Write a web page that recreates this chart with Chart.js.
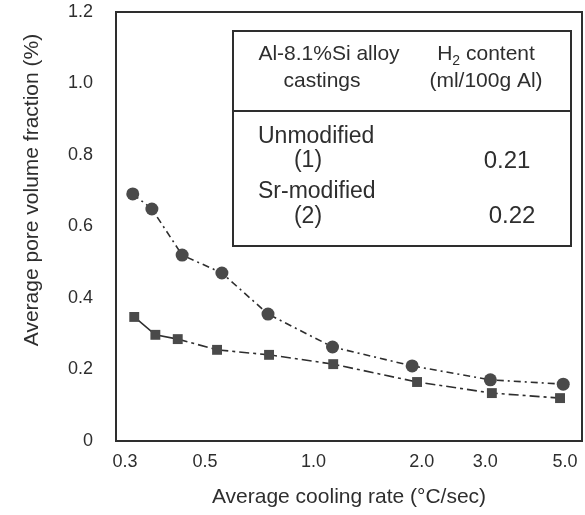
<!DOCTYPE html>
<html lang="en">
<head>
<meta charset="UTF-8">
<title>Pore volume fraction vs cooling rate</title>
<script src="https://cdn.jsdelivr.net/npm/chart.js@4/dist/chart.umd.min.js"></script>
<style>
  body { margin: 0; background: #fff; }
  #wrap { width: 585px; height: 515px; }
</style>
</head>
<body>
<div id="wrap"><canvas id="pores" width="585" height="515"></canvas></div>
<script>
// ---------- data ----------
const unmodX = [0.315, 0.356, 0.432, 0.557, 0.748, 1.13, 1.88, 3.10, 4.94];
const unmodY = [0.691, 0.649, 0.520, 0.470, 0.355, 0.263, 0.210, 0.171, 0.159];
const srX = [0.318, 0.364, 0.420, 0.540, 0.753, 1.135, 1.94, 3.13, 4.84];
const srY = [0.347, 0.297, 0.285, 0.255, 0.241, 0.215, 0.165, 0.134, 0.120];
const xTicks = [0.3, 0.5, 1.0, 2.0, 3.0, 5.0];
const yTicks = [0, 0.2, 0.4, 0.6, 0.8, 1.0, 1.2];

const ink = '#2e2e2e';
const markColor = '#4a4a4a';

const toPoints = (xs, ys) => xs.map((x, i) => ({ x: x, y: ys[i] }));

// frame, inset table and y title
const extras = {
  id: 'extras',
  afterDraw(chart) {
    const { ctx, chartArea: a } = chart;
    ctx.save();
    ctx.strokeStyle = ink;
    ctx.lineWidth = 2;
    ctx.strokeRect(a.left, a.top, a.right - a.left, a.bottom - a.top);

    // table box
    ctx.lineWidth = 2;
    ctx.strokeRect(233, 31, 338, 215);
    ctx.beginPath();
    ctx.moveTo(233, 111);
    ctx.lineTo(571, 111);
    ctx.stroke();

    ctx.fillStyle = ink;
    ctx.textBaseline = 'alphabetic';
    ctx.font = '21px "Liberation Sans", Arial, sans-serif';
    ctx.textAlign = 'center';
    ctx.fillText('Al-8.1%Si alloy', 329, 60);
    ctx.fillText('castings', 322, 87);
    ctx.fillText('(ml/100g Al)', 486, 87);

    // H2 content with subscript
    ctx.textAlign = 'left';
    const hW = ctx.measureText('H').width;
    const restW = ctx.measureText(' content').width;
    ctx.font = '14px "Liberation Sans", Arial, sans-serif';
    const subW = ctx.measureText('2').width;
    let hx = 486 - (hW + subW + restW) / 2;
    ctx.font = '21px "Liberation Sans", Arial, sans-serif';
    ctx.fillText('H', hx, 60);
    ctx.font = '14px "Liberation Sans", Arial, sans-serif';
    ctx.fillText('2', hx + hW, 65);
    ctx.font = '21px "Liberation Sans", Arial, sans-serif';
    ctx.fillText(' content', hx + hW + subW, 60);

    ctx.font = '23px "Liberation Sans", Arial, sans-serif';
    ctx.textAlign = 'left';
    ctx.fillText('Unmodified', 258, 143);
    ctx.fillText('Sr-modified', 258, 198);
    ctx.textAlign = 'center';
    ctx.fillText('(1)', 308, 167);
    ctx.fillText('(2)', 308, 223);
    ctx.font = '24px "Liberation Sans", Arial, sans-serif';
    ctx.fillText('0.21', 507, 168);
    ctx.fillText('0.22', 512, 223);

    // y axis title
    ctx.translate(32, 190);
    ctx.rotate(-Math.PI / 2);
    ctx.font = '21px "Liberation Sans", Arial, sans-serif';
    ctx.textAlign = 'center';
    ctx.textBaseline = 'middle';
    ctx.fillText('Average pore volume fraction (%)', 0, 0);
    ctx.restore();
  }
};

new Chart(document.getElementById('pores'), {
  type: 'scatter',
  data: {
    datasets: [
      {
        label: 'Unmodified (1)',
        data: toPoints(unmodX, unmodY),
        showLine: true,
        borderColor: ink,
        borderWidth: 1.6,
        borderDash: [7, 4, 2, 4],
        pointStyle: 'circle',
        pointRadius: 6.5,
        pointBackgroundColor: markColor,
        pointBorderColor: markColor,
        pointBorderWidth: 0
      },
      {
        label: 'Sr-modified (2)',
        data: toPoints(srX, srY),
        showLine: true,
        borderColor: ink,
        borderWidth: 1.6,
        borderDash: [10, 4, 3, 4],
        segment: {
          borderDash: c => (c.p0DataIndex < 2 ? [] : undefined)
        },
        pointStyle: 'rect',
        pointRadius: 7,
        pointBackgroundColor: markColor,
        pointBorderColor: markColor,
        pointBorderWidth: 0
      }
    ]
  },
  options: {
    responsive: false,
    animation: false,
    devicePixelRatio: 1,
    layout: { autoPadding: false, padding: { top: 12, right: 3, left: 0, bottom: 0 } },
    plugins: { legend: { display: false }, tooltip: { enabled: false } },
    scales: {
      x: {
        type: 'logarithmic',
        min: 0.283,
        max: 5.57,
        afterFit: s => {
          s.height = 74;
          s.paddingLeft = 0;
          s.paddingRight = 0;
        },
        afterBuildTicks: s => { s.ticks = xTicks.map(v => ({ value: v })); },
        grid: { display: false, drawTicks: false },
        border: { display: false },
        ticks: {
          color: ink,
          padding: 10,
          maxRotation: 0,
          autoSkip: false,
          font: { family: '"Liberation Sans", Arial, sans-serif', size: 18 },
          callback: v => Number(v).toFixed(1)
        },
        title: {
          display: true,
          text: 'Average cooling rate (°C/sec)',
          color: ink,
          padding: { top: 0, bottom: 5 },
          font: { family: '"Liberation Sans", Arial, sans-serif', size: 21 }
        }
      },
      y: {
        min: 0,
        max: 1.2,
        afterFit: s => {
          s.width = 116;
          s.paddingTop = 0;
          s.paddingBottom = 0;
        },
        afterBuildTicks: s => { s.ticks = yTicks.map(v => ({ value: v })); },
        grid: { display: false, drawTicks: false },
        border: { display: false },
        ticks: {
          color: ink,
          padding: 23,
          font: { family: '"Liberation Sans", Arial, sans-serif', size: 18 },
          callback: v => (v === 0 ? '0' : Number(v).toFixed(1))
        }
      }
    }
  },
  plugins: [extras]
});
</script>
</body>
</html>
